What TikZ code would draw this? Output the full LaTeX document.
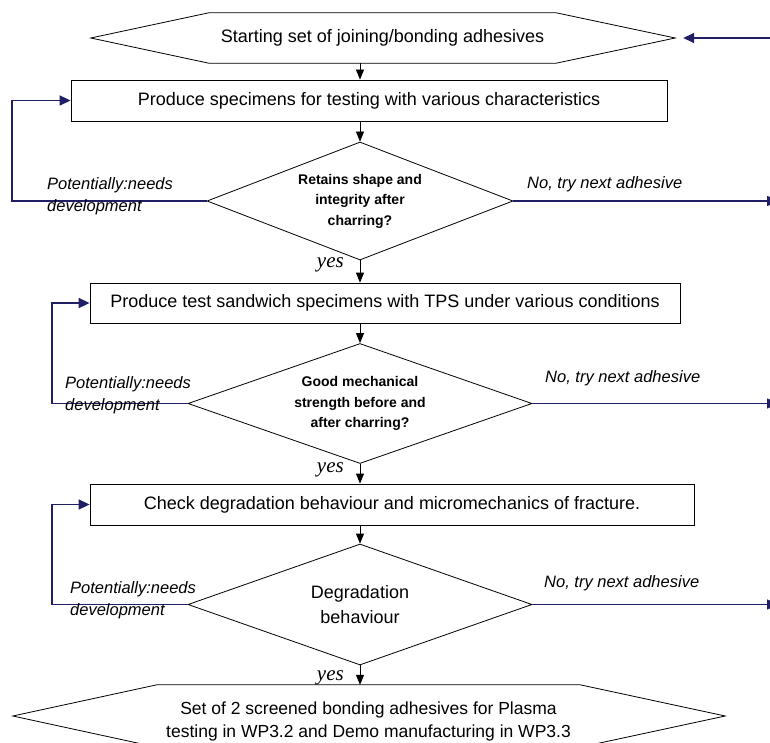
\documentclass[tikz,border=0pt]{standalone}
\usepackage{fontspec}
\setmainfont{Liberation Sans}
\newfontfamily\yesfont{Liberation Serif}
\usetikzlibrary{shapes.geometric,arrows.meta,calc}
\definecolor{navyline}{RGB}{32,30,100}
\begin{document}
\begin{tikzpicture}[x=1pt,y=-1pt,
  procbox/.style={draw, line width=0.8pt, rectangle, inner sep=0pt, minimum height=41pt, font=\fontsize{18}{22}\selectfont},
  hexcore/.style={inner sep=0pt},
  hexline/.style={line width=0.8pt},
  decision/.style={draw, line width=0.8pt, diamond, inner sep=0pt, align=center},
  flow/.style={-{Triangle[length=10pt,width=8pt]}, line width=0.8pt},
  backloop/.style={-{Triangle[length=11pt,width=10pt]}, line width=1.6pt, draw=navyline, color=navyline},
  lbl/.style={font=\fontsize{16.5}{22.5}\selectfont\itshape, inner sep=0pt, align=left},
  yeslbl/.style={font=\fontsize{21}{24}\selectfont\yesfont\itshape, inner sep=0pt}
]
\useasboundingbox (0,0) rectangle (770,743);
\clip (0,0) rectangle (770,743);

% helper coordinates for connector columns
\coordinate (Redge) at (778,0);
\coordinate (L1) at (12,0);
\coordinate (L2) at (52,0);

% start hexagon
\node[hexcore, minimum width=347pt, minimum height=50pt, font=\fontsize{18}{22}\selectfont] (start) at (382.5,38) {Starting set of joining/bonding adhesives};
\draw[hexline] (start.north west) -- (start.north east) -- ($(start.east)+(119,0)$) coordinate (startR) -- (start.south east) -- (start.south west) -- ($(start.west)+(-118,0)$) -- cycle;

% process boxes
\node[procbox, minimum width=596pt] (b1) at (369,100.5) {Produce specimens for testing with various characteristics};
\node[procbox, minimum width=590pt, minimum height=40pt] (b2) at (385,303) {Produce test sandwich specimens with TPS under various conditions};
\node[procbox, minimum width=604pt] (b3) at (392,504.5) {Check degradation behaviour and micromechanics of fracture.};

% decisions
\node[decision, minimum width=306pt, minimum height=118pt, shape aspect=2.6, font=\bfseries\fontsize{14}{20.5}\selectfont] (d1) at (360,201) {Retains shape and\\integrity after\\charring?};
\node[decision, minimum width=344pt, minimum height=120pt, shape aspect=2.87, font=\bfseries\fontsize{14}{20.5}\selectfont] (d2) at (360,403.5) {Good mechanical\\strength before and\\after charring?};
\node[decision, minimum width=344pt, minimum height=121pt, shape aspect=2.84, font=\fontsize{18}{25}\selectfont] (d3) at (360,604.5) {Degradation\\behaviour};

% end hexagon
\node[hexcore, minimum width=423pt, minimum height=62pt] (end) at (368.5,716) {};
\draw[hexline] (end.north west) -- (end.north east) -- ($(end.east)+(145,0)$) -- (end.south east) -- (end.south west) -- ($(end.west)+(-144,0)$) -- cycle;
\node[font=\fontsize{17.5}{23}\selectfont, align=center, inner sep=0pt] (endtext) at ($(end.center)+(0,5)$) {Set of 2 screened bonding adhesives for Plasma\\testing in WP3.2 and Demo manufacturing in WP3.3};

% main flow
\draw[flow] (start.south -| d1.north) -- (b1.north -| d1.north);
\draw[flow] (b1.south -| d1.north) -- (d1.north);
\draw[flow] (d1.south) -- (b2.north -| d1.south);
\draw[flow] (b2.south -| d2.north) -- (d2.north);
\draw[flow] (d2.south) -- (b3.north -| d2.south);
\draw[flow] (b3.south -| d3.north) -- (d3.north);
\draw[flow] (d3.south) -- (end.north -| d3.south);

% back loops (left)
\draw[backloop] (d1.west) -- (d1.west -| L1) |- (b1.west);
\draw[backloop] (d2.west) -- (d2.west -| L2) |- (b2.west);
\draw[backloop] (d3.west) -- (d3.west -| L2) |- (b3.west);

% next adhesive (right)
\draw[backloop] (d1.east) -- (d1.east -| Redge);
\draw[backloop] (d2.east) -- (d2.east -| Redge);
\draw[backloop] (d3.east) -- (d3.east -| Redge);
\draw[backloop] (startR -| Redge) -- ($(startR)+(8,0)$);

% labels
\node[lbl, anchor=north west] (p1) at (47,177) {Potentially:needs\\development};
\node[lbl, anchor=north west] (p2) at (65,376) {Potentially:needs\\development};
\node[lbl, anchor=north west] (p3) at (70,581) {Potentially:needs\\development};
\node[lbl, anchor=base west] (n1) at (527,189) {No, try next adhesive};
\node[lbl, anchor=base west] (n2) at (545,382) {No, try next adhesive};
\node[lbl, anchor=base west] (n3) at (544,587) {No, try next adhesive};
\node[yeslbl, anchor=base east] (y1) at (344,267) {yes};
\node[yeslbl, anchor=base east] (y2) at (344,472) {yes};
\node[yeslbl, anchor=base east] (y3) at (344,680) {yes};
\end{tikzpicture}
\end{document}
